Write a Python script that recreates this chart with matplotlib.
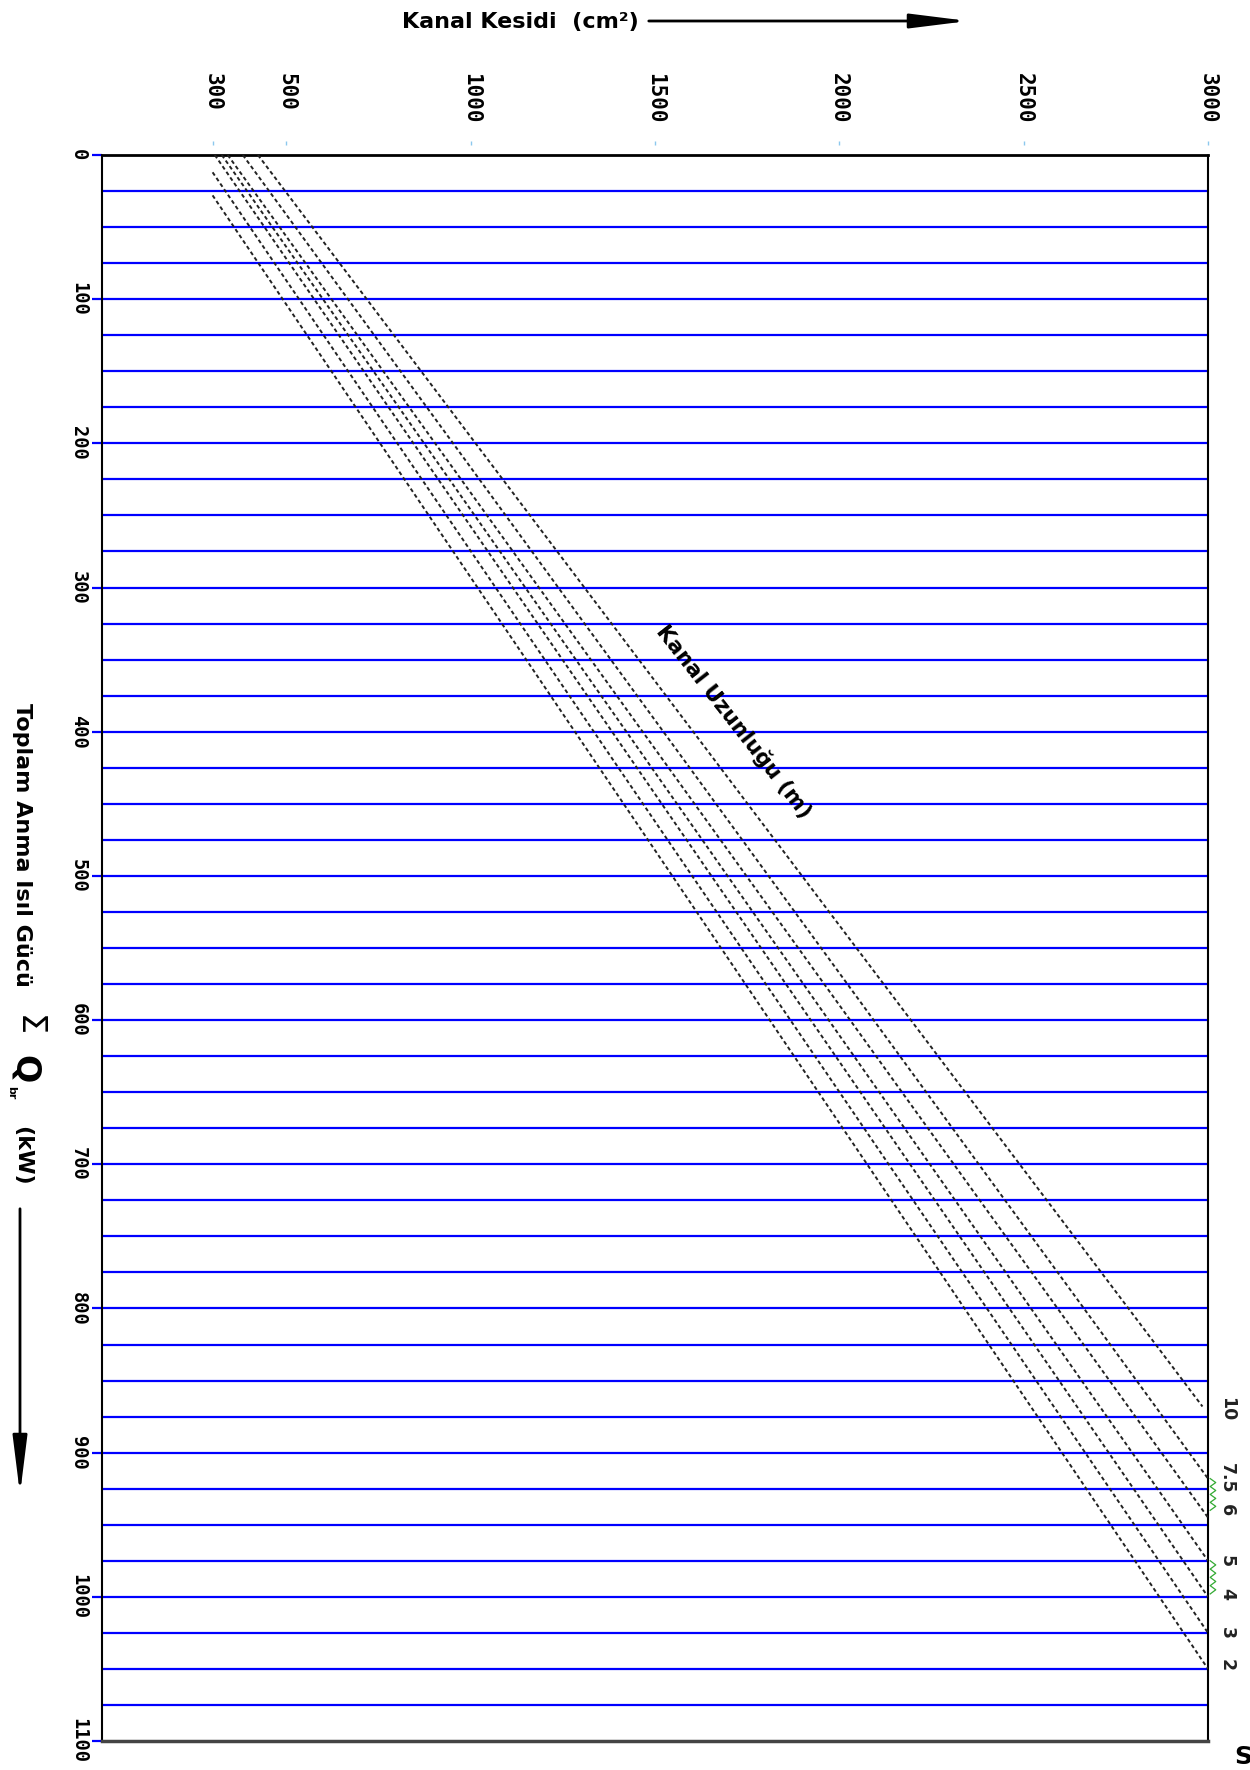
import numpy as np
import matplotlib.pyplot as plt
from matplotlib import transforms

W, H = 1250, 1770

# eksen degerleri
x_ticks = [300, 500, 1000, 1500, 2000, 2500, 3000]
y_ticks = list(range(0, 1101, 100))
yatay_cizgi = list(range(25, 1100, 25))

# kanal uzunlugu (m) egrileri: baslangic ve bitis noktalari (kesit cm2, guc kW)
uzunluk = ["10", "7.5", "6", "5", "4", "3", "2"]
kesit_bas = [423, 382, 341, 325, 306, 300, 300]
guc_bas = [0, 0, 0, 0, 0, 12, 28]
kesit_son = [2985, 3000, 3000, 3000, 3000, 3000, 3000]
guc_son = [868, 918, 945, 975, 1000, 1025, 1050]
etiket_guc = [870, 918, 940, 975, 998, 1025, 1047]


def px(x, y):
    # ust-sol pikselden figure kesrine
    return x / W, 1 - y / H


fig = plt.figure(figsize=(W / 100, H / 100), dpi=100)
ax = fig.add_axes([102 / W, 1 - 1741 / H, (1208 - 102) / W, (1741 - 155) / H])
ax.set_xlim(0, 3000)
ax.set_ylim(1100, 0)

# yatay mavi cizgiler
ax.hlines(yatay_cizgi, 0, 3000, color="#0000ff", lw=1.6, zorder=2)

# kesikli egriler
for kb, gb, ks, gs in zip(kesit_bas, guc_bas, kesit_son, guc_son):
    ax.plot([kb, ks], [gb, gs], color="#222222", lw=1.4, ls=(0, (2.0, 1.5)), zorder=3)

# egri etiketleri (sag kenar)
sag = transforms.blended_transform_factory(ax.transAxes, ax.transData)
for lbl, g in zip(uzunluk, etiket_guc):
    ax.text(1.009, g, lbl, transform=sag, rotation=270, ha="left", va="center",
            fontsize=12.5, fontweight="bold", color="#222222", clip_on=False)

# yesil zikzaklar
for g1, g2 in [(etiket_guc[1], etiket_guc[2]), (etiket_guc[3], etiket_guc[4])]:
    zy = np.linspace(g1, g2, 9)
    zx = [1.002 if i % 2 == 0 else 1.007 for i in range(len(zy))]
    ax.plot(zx, zy, transform=sag, color="#33aa33", lw=0.9, clip_on=False)

ax.text(1714, 393, "Kanal Uzunluğu (m)", rotation=-52, rotation_mode="anchor",
        ha="center", va="center", fontsize=15.5, fontweight="bold")

# spines
for s in ["left", "right"]:
    ax.spines[s].set_linestyle((0, (2, 1)))
    ax.spines[s].set_linewidth(1.5)
    ax.spines[s].set_color("black")
ax.spines["top"].set_linewidth(2)
ax.spines["bottom"].set_linewidth(2.5)
ax.spines["bottom"].set_color("#444444")

# y ekseni
ax.set_yticks(y_ticks)
ax.tick_params(axis="y", direction="out", length=7, width=1.6, color="#0000ff",
               pad=3, labelrotation=270, labelsize=13.5)
ax.yaxis.get_major_ticks()[0].tick1line.set_color("black")
ax.yaxis.get_major_ticks()[-1].tick1line.set_color("#444444")
for t in ax.get_yticklabels():
    t.set_fontfamily("DejaVu Sans Mono")
    t.set_fontweight("bold")
    t.set_verticalalignment("center")

# x ekseni (ustte), etiketler ust hizali
ax.set_xticks(x_ticks)
ax.tick_params(axis="x", top=False, bottom=False, labeltop=False, labelbottom=False)
ust = transforms.blended_transform_factory(ax.transData, ax.transAxes)
ax.plot(x_ticks, [1.0076] * len(x_ticks), transform=ust, ls="none", marker="|",
        ms=3, color="#8cc8ee", clip_on=False)
for xt in x_ticks:
    ax.text(xt, 1.0517, str(xt), transform=ust, rotation=270, ha="center", va="top",
            fontsize=15, fontweight="bold", family="DejaVu Sans Mono", clip_on=False)

# eksen basliklari
ok = dict(arrowstyle="-|>,head_length=1.6,head_width=0.2", lw=2, color="black",
          mutation_scale=22)
fig.text(*px(520, 22), "Kanal Kesidi  (cm²)", ha="center", va="center",
         fontsize=16, fontweight="bold")
ax.annotate("", xy=(971, H - 21), xytext=(646, H - 21), xycoords="figure pixels",
            textcoords="figure pixels", arrowprops=ok)

fig.text(*px(22, 845), "Toplam Anma Isıl Gücü", rotation=270, ha="center",
         va="center", fontsize=16, fontweight="bold")
fig.text(*px(28, 1026), "Σ", rotation=270, ha="center", va="center", fontsize=24)
fig.text(*px(24, 1069), "Q", rotation=270, ha="center", va="center", fontsize=24,
         fontweight="bold")
fig.text(*px(11, 1093), "br", rotation=270, ha="center", va="center", fontsize=8,
         fontweight="bold")
fig.text(*px(22, 1156), "(kW)", rotation=270, ha="center", va="center",
         fontsize=16, fontweight="bold")
ax.annotate("", xy=(20, H - 1497), xytext=(20, H - 1206), xycoords="figure pixels",
            textcoords="figure pixels", arrowprops=ok)

fig.text(*px(1234, 1769), "S", ha="left", va="bottom", fontsize=18, fontweight="bold")

fig.savefig("out.png", dpi=100)
